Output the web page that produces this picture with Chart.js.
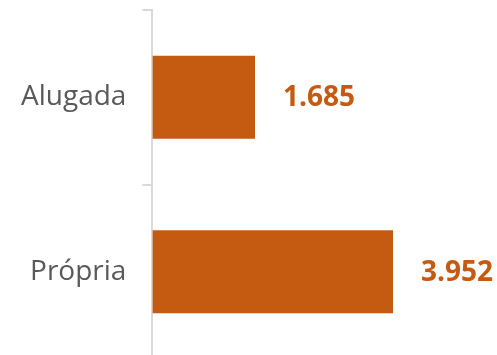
<!DOCTYPE html>
<html>
<head>
<meta charset="utf-8">
<script src="https://cdn.jsdelivr.net/npm/chart.js@4/dist/chart.umd.min.js"></script>
<style>
  html, body { margin: 0; padding: 0; background: #ffffff; overflow: hidden; }
  #wrap { width: 497px; height: 355px; overflow: hidden; }
</style>
</head>
<body>
<div id="wrap"><canvas id="c" width="497" height="359"></canvas></div>
<script>
const categories = ["Alugada", "Própria"];
const values = [1.685, 3.952];
const valueLabels = ["1.685", "3.952"];

const barColor = "#C55A11";
const axisColor = "#D9D9D9";
const textColor = "#595959";
const fontFamily = "'Open Sans', 'Noto Sans', sans-serif";

const valueLabelPlugin = {
  id: "valueLabels",
  afterDatasetsDraw(chart) {
    const ctx = chart.ctx;
    const meta = chart.getDatasetMeta(0);
    ctx.save();
    ctx.fillStyle = barColor;
    ctx.font = "bold 28px " + fontFamily;
    ctx.textAlign = "left";
    ctx.textBaseline = "middle";
    meta.data.forEach((bar, i) => {
      ctx.fillText(valueLabels[i], bar.x + 28, bar.y + 1);
    });
    ctx.restore();
  }
};

new Chart(document.getElementById("c"), {
  type: "bar",
  data: {
    labels: categories,
    datasets: [{
      data: values,
      backgroundColor: barColor,
      borderWidth: 0,
      categoryPercentage: 1,
      barPercentage: 0.475
    }]
  },
  options: {
    indexAxis: "y",
    responsive: false,
    animation: false,
    devicePixelRatio: 1,
    layout: { padding: { top: 10, right: 0, bottom: 0, left: 5 } },
    plugins: { legend: { display: false }, tooltip: { enabled: false } },
    scales: {
      x: { display: false, min: 0, max: 5.66 },
      y: {
        afterFit(scale) { scale.paddingTop = 0; scale.paddingBottom = 0; },
        border: { display: true, color: axisColor, width: 2 },
        grid: { display: true, drawOnChartArea: false, drawTicks: true, tickLength: 10, color: axisColor, lineWidth: 2, offset: true },
        ticks: { color: textColor, font: { family: fontFamily, size: 28 }, padding: 16 }
      }
    }
  },
  plugins: [valueLabelPlugin]
});
</script>
</body>
</html>
